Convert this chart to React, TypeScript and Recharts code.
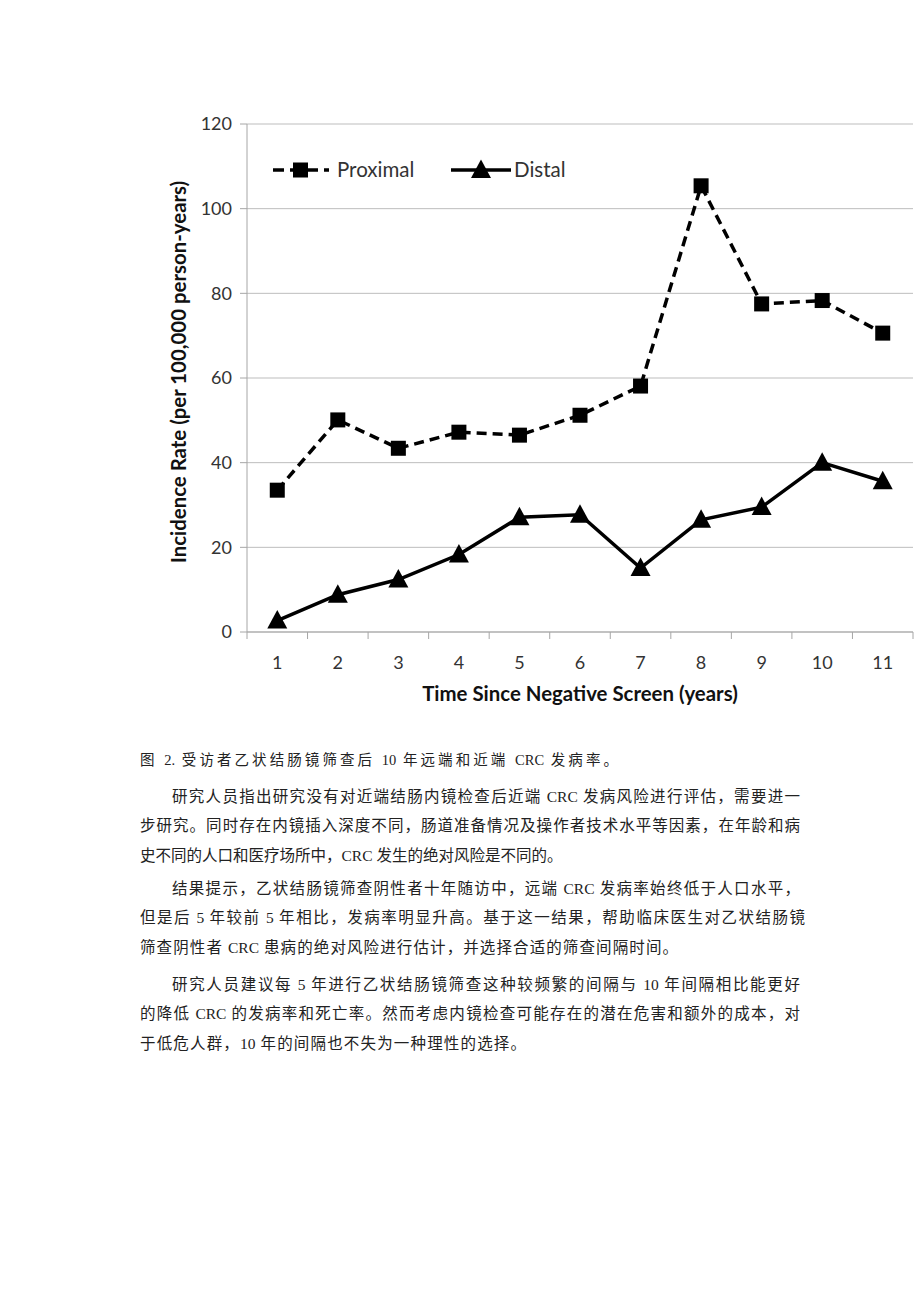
import React from 'react';
import { LineChart, Line, XAxis, YAxis, CartesianGrid, Legend, Label } from 'recharts';

const years = ['1', '2', '3', '4', '5', '6', '7', '8', '9', '10', '11'];
const proximal = [33.5, 50.1, 43.4, 47.2, 46.5, 51.2, 58.1, 105.4, 77.5, 78.3, 70.6];
const distal = [2.7, 8.8, 12.4, 18.3, 27.1, 27.7, 15.1, 26.5, 29.5, 40.0, 35.6];
const yTicks = [0, 20, 40, 60, 80, 100, 120];

const seriesNames = { proximal: 'Proximal', distal: 'Distal' };
const yTitle = 'Incidence Rate (per 100,000 person-years)';
const xTitle = 'Time Since Negative Screen (years)';

const caption = '图 2. 受访者乙状结肠镜筛查后 10 年远端和近端 CRC 发病率。';
const paragraphs: string[][] = [
  [
    '研究人员指出研究没有对近端结肠内镜检查后近端 CRC 发病风险进行评估，需要进一',
    '步研究。同时存在内镜插入深度不同，肠道准备情况及操作者技术水平等因素，在年龄和病',
    '史不同的人口和医疗场所中，CRC 发生的绝对风险是不同的。',
  ],
  [
    '结果提示，乙状结肠镜筛查阴性者十年随访中，远端 CRC 发病率始终低于人口水平，',
    '但是后 5 年较前 5 年相比，发病率明显升高。基于这一结果，帮助临床医生对乙状结肠镜',
    '筛查阴性者 CRC 患病的绝对风险进行估计，并选择合适的筛查间隔时间。',
  ],
  [
    '研究人员建议每 5 年进行乙状结肠镜筛查这种较频繁的间隔与 10 年间隔相比能更好',
    '的降低 CRC 的发病率和死亡率。然而考虑内镜检查可能存在的潜在危害和额外的成本，对',
    '于低危人群，10 年的间隔也不失为一种理性的选择。',
  ],
];
const lineCenters = [
  [797, 826, 856],
  [889, 918, 948],
  [985, 1014, 1044],
];
const lineRights = [
  [800, 800, 556],
  [800, 805, 678],
  [800, 800, 526],
];

const data = years.map((y, i) => ({ year: y, proximal: proximal[i], distal: distal[i] }));

const FONT = 'Lato, "Open Sans", sans-serif';
const TXT = '#333';
const AXIS = '#a6a6a6';
const HALF_BAND = 30.27;

const SquareDot = (props: any) => {
  const { cx, cy } = props;
  if (cx == null || cy == null) return null;
  return <rect x={cx - 7.5} y={cy - 7.5} width={15} height={15} fill="#000" />;
};

const TriangleDot = (props: any) => {
  const { cx, cy } = props;
  if (cx == null || cy == null) return null;
  return <polygon points={`${cx},${cy - 10.5} ${cx - 10},${cy + 8} ${cx + 10},${cy + 8}`} fill="#000" />;
};

const XTick = (props: any) => {
  const { x, y, payload, index } = props;
  const off = payload && payload.offset ? payload.offset : HALF_BAND;
  const isLast = index === years.length - 1;
  return (
    <g>
      <line x1={x - off} x2={x - off} y1={y} y2={y + 7} stroke={AXIS} strokeWidth={1} />
      {isLast && <line x1={x + off} x2={x + off} y1={y} y2={y + 7} stroke={AXIS} strokeWidth={1} />}
      <text x={x} y={y + 37} textAnchor="middle" fill={TXT} fontSize={18} fontFamily={FONT}>
        {payload.value}
      </text>
    </g>
  );
};

const renderLegend = () => (
  <svg width={330} height={30} style={{ display: 'block' }}>
    <line x1={8} x2={64} y1={15} y2={15} stroke="#000" strokeWidth={3.5} strokeDasharray="11 6" />
    <rect x={28} y={7.5} width={15} height={15} fill="#000" />
    <text x={72} y={22} fill={TXT} fontSize={20.5} fontFamily={FONT}>{seriesNames.proximal}</text>
    <line x1={186} x2={246} y1={15} y2={15} stroke="#000" strokeWidth={3.5} />
    <polygon points={`216,4.5 206,23 226,23`} fill="#000" />
    <text x={249} y={22} fill={TXT} fontSize={20.5} fontFamily={FONT}>{seriesNames.distal}</text>
  </svg>
);

const textFont = '"Liberation Serif", "Noto Sans CJK SC", serif';

export default function App() {
  return (
    <div style={{ position: 'absolute', left: 0, top: 0, width: 920, height: 1302, background: '#fff' }}>
      <LineChart
        width={920}
        height={720}
        data={data}
        margin={{ top: 124, right: 7, left: 0, bottom: 0 }}
      >
        <CartesianGrid vertical={false} stroke="#bdbdbd" strokeWidth={1} />
        <XAxis
          dataKey="year"
          height={88}
          stroke={AXIS}
          tickLine={false}
          tickSize={0}
          tickMargin={0}
          interval={0}
          padding={{ left: HALF_BAND, right: HALF_BAND }}
          tick={<XTick />}
        >
          <Label
            content={() => (
              <text x={580} y={701} textAnchor="middle" fill="#111" fontSize={20.4} fontWeight={700} fontFamily={FONT}>
                {xTitle}
              </text>
            )}
          />
        </XAxis>
        <YAxis
          width={247}
          domain={[0, 120]}
          ticks={yTicks}
          interval={0}
          stroke={AXIS}
          tickSize={7}
          tickMargin={8}
          tick={{ fill: TXT, fontSize: 18, fontFamily: FONT }}
        >
          <Label
            content={() => (
              <text
                transform="translate(186,372) rotate(-90)"
                textAnchor="middle"
                fill="#111"
                fontSize={20.4}
                fontWeight={700}
                fontFamily={FONT}
              >
                {yTitle}
              </text>
            )}
          />
        </YAxis>
        <Legend
          verticalAlign="middle"
          layout="horizontal"
          align="center"
          content={renderLegend}
          wrapperStyle={{ top: 155, left: 265, width: 330, height: 30 }}
        />
        <Line
          type="linear"
          dataKey="proximal"
          name={seriesNames.proximal}
          stroke="#000"
          strokeWidth={3.5}
          strokeDasharray="10 6"
          dot={<SquareDot />}
          activeDot={false}
          isAnimationActive={false}
        />
        <Line
          type="linear"
          dataKey="distal"
          name={seriesNames.distal}
          stroke="#000"
          strokeWidth={3.5}
          dot={<TriangleDot />}
          activeDot={false}
          isAnimationActive={false}
        />
      </LineChart>

      <div
        style={{
          position: 'absolute',
          left: 140,
          top: 760 - 10,
          width: 478,
          lineHeight: '20px',
          fontSize: 14.5,
          fontFamily: textFont,
          color: '#222',
          whiteSpace: 'nowrap',
          textAlign: 'justify',
          textAlignLast: 'justify',
        } as React.CSSProperties}
      >
        {caption}
      </div>
      {paragraphs.map((lines, pi) =>
        lines.map((ln, li) => {
          const indent = li === 0 ? 32 : 0;
          const left = 140 + indent;
          return (
            <div
              key={`${pi}-${li}`}
              style={{
                position: 'absolute',
                left,
                top: lineCenters[pi][li] - 10,
                width: lineRights[pi][li] - left,
                lineHeight: '20px',
                fontSize: 15.5,
                fontFamily: textFont,
                color: '#222',
                whiteSpace: 'nowrap',
                textAlign: 'justify',
                textAlignLast: 'justify',
              } as React.CSSProperties}
            >
              {ln}
            </div>
          );
        })
      )}
    </div>
  );
}
